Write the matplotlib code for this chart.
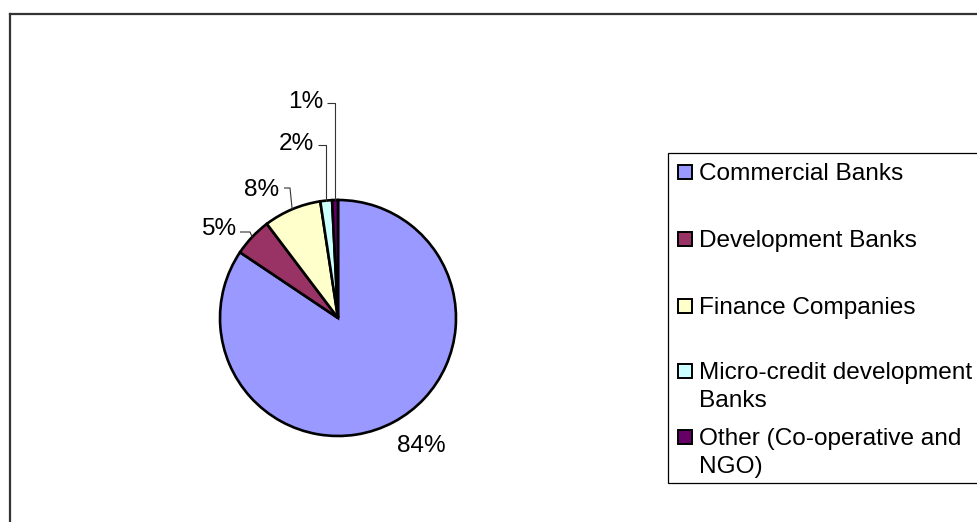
import matplotlib
matplotlib.use("Agg")
import matplotlib.pyplot as plt
import numpy as np
from matplotlib.lines import Line2D
from matplotlib.patches import Rectangle

plt.rcParams["font.family"] = ["Liberation Sans", "DejaVu Sans"]

# Share of institutions (percent)
categories = [
    "Commercial Banks",
    "Development Banks",
    "Finance Companies",
    "Micro-credit development\nBanks",
    "Other (Co-operative and\nNGO)",
]
shares = [84.4, 5.3, 7.9, 1.6, 0.8]
colors = ["#9999FF", "#993366", "#FFFFCC", "#CCFFFF", "#660066"]

W, H = 978, 522
fig = plt.figure(figsize=(W / 100, H / 100), dpi=100)

# pie geometry in pixels (from top-left)
cx, cy, rad = 338, 318, 118
lim = 2.0
half = rad * lim
ax = fig.add_axes([(cx - half) / W, (H - cy - half) / H, 2 * half / W, 2 * half / H])
ax.axis("off")

wedges, _ = ax.pie(
    shares, colors=colors, startangle=90, counterclock=False, radius=1.0,
    wedgeprops=dict(edgecolor="black", linewidth=1.9),
)
ax.set_xlim(-lim, lim)
ax.set_ylim(-lim, lim)
ax.set_aspect("equal")
for w in wedges:
    w.set_clip_on(False)

total = sum(shares)
cum = np.cumsum([0] + shares)
mid_deg = [90 - 360 * (cum[i] + cum[i + 1]) / 2 / total for i in range(len(shares))]


def px(x, y):
    return (x - cx) / rad, (cy - y) / rad


# label placement: text centre, leader start and elbow (pixels); None = no leader
label_pos = [(421, 446), (218.5, 229), (262, 189.5), (296.5, 143.5), (306, 102.5)]
leader_start = [None, (240, 232), (284, 188), (318, 145), (327, 103)]
elbow_dx = [None, 10, 6, None, None]

FS = 17.6
for i, s in enumerate(shares):
    tx, ty = px(*label_pos[i])
    ax.text(tx, ty, f"{s:.0f}%", ha="center", va="center", fontsize=FS,
            color="black", clip_on=False)
    if leader_start[i] is not None:
        a = np.deg2rad(mid_deg[i])
        ex, ey = np.cos(a), np.sin(a)
        sx, sy = px(*leader_start[i])
        if elbow_dx[i] is None:
            bx = ex
        else:
            bx = px(leader_start[i][0] + elbow_dx[i], 0)[0]
        ax.plot([sx, bx, ex], [sy, sy, ey], color="#333333", lw=0.8,
                clip_on=False, solid_capstyle="butt")

# outer chart frame (left and top edges)
fig.add_artist(Line2D([10 / W, 10 / W], [0, 1 - 14 / H], color="#333333", lw=1.6,
                      transform=fig.transFigure))
fig.add_artist(Line2D([10 / W, 1], [1 - 14 / H, 1 - 14 / H], color="#333333", lw=1.6,
                      transform=fig.transFigure))

# legend box
lx0, ly0, ly1 = 668, 153, 483
fig.add_artist(Rectangle((lx0 / W, 1 - ly1 / H), (W + 5 - lx0) / W, (ly1 - ly0) / H,
                         transform=fig.transFigure, facecolor="white",
                         edgecolor="black", lw=0.9, clip_on=False))
row_y = [172, 239, 306, 371, 437]
sq = 14
for i, lab in enumerate(categories):
    y = row_y[i]
    fig.add_artist(Rectangle((678 / W, 1 - (y + sq / 2) / H), sq / W, sq / H,
                             transform=fig.transFigure, facecolor=colors[i],
                             edgecolor="black", lw=1.4))
    fig.text(699 / W, 1 - (y - 9) / H, lab, ha="left", va="top", fontsize=FS,
             linespacing=1.35, color="black")

fig.savefig("out.png", dpi=100, facecolor="white")
